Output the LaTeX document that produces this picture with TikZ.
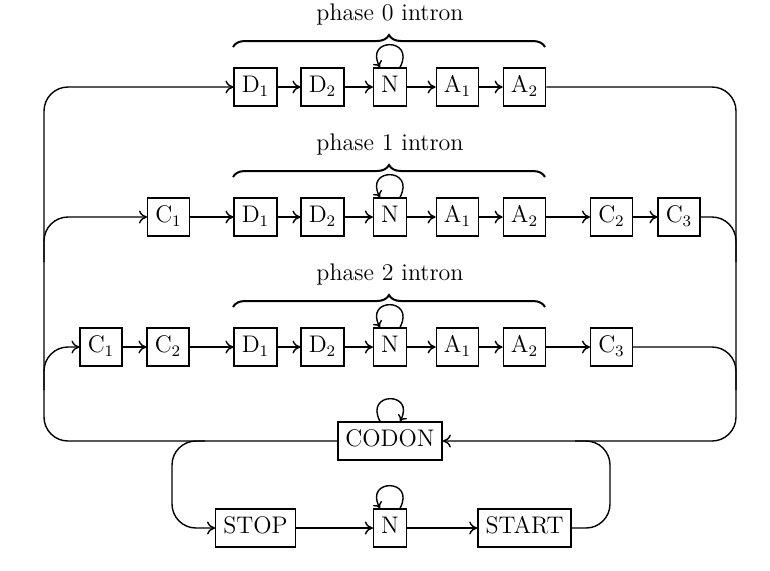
\documentclass[tikz,border=0pt]{standalone}
\usetikzlibrary{decorations.pathreplacing,arrows.meta}
\begin{document}
\begin{tikzpicture}[x=0.5pt,y=-0.5pt,
  font=\fontsize{12}{14}\selectfont,
  st/.style={draw,line width=0.7pt,inner xsep=3.8pt,inner ysep=0pt,minimum height=19pt,text height=8.6pt,text depth=2.8pt},
  ar/.style={line width=0.7pt,-{To[length=4pt,width=6.5pt]}},
  ln/.style={line width=0.7pt,rounded corners=12pt},
  br/.style={decorate,decoration={brace,amplitude=6pt},line width=1pt},
  lp/.style={line width=0.7pt,-{To[length=3pt,width=5pt]}}]
\useasboundingbox (0,0) rectangle (770,570);
% row 1
\node[st] (ad1) at (255.5,87) {D$_1$};
\node[st] (ad2) at (322.5,87) {D$_2$};
\node[st] (an) at (390,87) {N};
\node[st] (aa1) at (457.5,87) {A$_1$};
\node[st] (aa2) at (524.5,87) {A$_2$};
% row 2
\node[st] (bc1) at (168.5,217) {C$_1$};
\node[st] (bd1) at (255.5,217) {D$_1$};
\node[st] (bd2) at (322.5,217) {D$_2$};
\node[st] (bn) at (390,217) {N};
\node[st] (ba1) at (457.5,217) {A$_1$};
\node[st] (ba2) at (524.5,217) {A$_2$};
\node[st] (bc2) at (611.5,217) {C$_2$};
\node[st] (bc3) at (679,217) {C$_3$};
% row 3
\node[st] (cc1) at (101,347) {C$_1$};
\node[st] (cc2) at (168,347) {C$_2$};
\node[st] (cd1) at (255.5,347) {D$_1$};
\node[st] (cd2) at (322.5,347) {D$_2$};
\node[st] (cn) at (390,347) {N};
\node[st] (ca1) at (457.5,347) {A$_1$};
\node[st] (ca2) at (524.5,347) {A$_2$};
\node[st] (cc3) at (611.5,347) {C$_3$};
% codon and bottom
\node[st] (codon) at (390,441) {CODON};
\node[st] (stop) at (255.5,528) {STOP};
\node[st] (dn) at (390,528) {N};
\node[st] (start) at (524.5,528) {START};
% braces and labels
\draw[br] (233,47) -- (545,47);
\draw[br] (233,177) -- (545,177);
\draw[br] (233,307) -- (545,307);
\node (la) at (390,14) {phase 0 intron};
\node (lb) at (390,144) {phase 1 intron};
\node (lc) at (390,274) {phase 2 intron};
% row arrows
\draw[ar] (ad1) -- (ad2); \draw[ar] (ad2) -- (an); \draw[ar] (an) -- (aa1); \draw[ar] (aa1) -- (aa2);
\draw[ar] (bc1) -- (bd1); \draw[ar] (bd1) -- (bd2); \draw[ar] (bd2) -- (bn); \draw[ar] (bn) -- (ba1); \draw[ar] (ba1) -- (ba2); \draw[ar] (ba2) -- (bc2); \draw[ar] (bc2) -- (bc3);
\draw[ar] (cc1) -- (cc2); \draw[ar] (cc2) -- (cd1); \draw[ar] (cd1) -- (cd2); \draw[ar] (cd2) -- (cn); \draw[ar] (cn) -- (ca1); \draw[ar] (ca1) -- (ca2); \draw[ar] (ca2) -- (cc3);
\draw[ar] (stop) -- (dn); \draw[ar] (dn) -- (start);
% self loops
\foreach \n in {an,bn,cn,dn}{
  \draw[lp] ([xshift=5pt]\n.north) .. controls +(62:17pt) and +(118:17pt) .. ([xshift=-5pt]\n.north);
}
\draw[lp] ([xshift=-5pt]codon.north) .. controls +(118:17pt) and +(62:17pt) .. ([xshift=5pt]codon.north);
% coordinates for the big loop
\coordinate (lbot) at (44,441);
\coordinate (ltop) at (44,87);
\coordinate (rtop) at (736,87);
\coordinate (rbot) at (736,441);
\coordinate (l2a) at (44,262);
\coordinate (l2b) at (44,217);
\coordinate (l3a) at (44,390);
\coordinate (l3b) at (44,347);
\coordinate (r2a) at (736,217);
\coordinate (r2b) at (736,262);
\coordinate (r3a) at (736,347);
\coordinate (r3b) at (736,390);
\coordinate (sa) at (205,441);
\coordinate (sb) at (172,441);
\coordinate (sc) at (172,528);
\coordinate (ta) at (610,528);
\coordinate (tb) at (610,441);
\coordinate (tc) at (575,441);
% big loop
\draw[ln,ar] (codon.west) -- (lbot) -- (ltop) -- (ad1.west);
\draw[ln,ar] (aa2.east) -- (rtop) -- (rbot) -- (codon.east);
\draw[ln,ar] (l2a) -- (l2b) -- (bc1.west);
\draw[ln,ar] (l3a) -- (l3b) -- (cc1.west);
\draw[ln] (bc3.east) -- (r2a) -- (r2b);
\draw[ln] (cc3.east) -- (r3a) -- (r3b);
\draw[ln,ar] (sa) -- (sb) -- (sc) -- (stop.west);
\draw[ln] (start.east) -- (ta) -- (tb) -- (tc);
\end{tikzpicture}
\end{document}
